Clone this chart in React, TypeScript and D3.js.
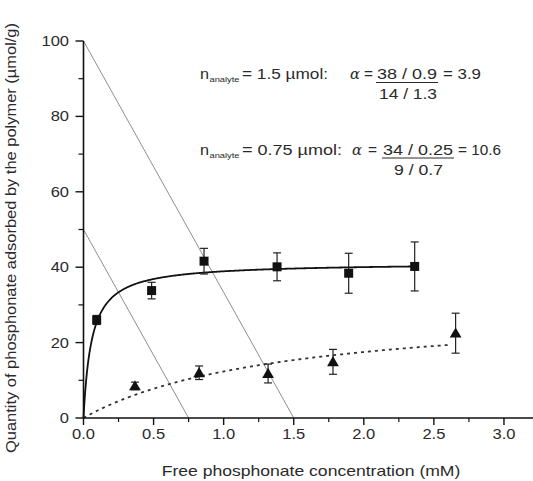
import React from "react";
import * as d3 from "d3";

const W = 533;
const H = 481;

// Polymer adsorption data, 1.5 µmol analyte (squares)
const concHigh = [0.094, 0.486, 0.86, 1.381, 1.892, 2.363];
const qHigh = [26, 33.8, 41.6, 40.1, 38.4, 40.2];
const errHigh = [1.2, 2.2, 3.4, 3.7, 5.3, 6.5];

// Polymer adsorption data, 0.75 µmol analyte (triangles)
const concLow = [0.367, 0.825, 1.317, 1.78, 2.655];
const qLow = [8.5, 12.0, 11.8, 14.9, 22.5];
const errLow = [1.0, 1.8, 2.5, 3.3, 5.3];

// Langmuir fit parameters [qmax, K, xEnd]
const fitHigh = [41.2, 17, 2.37];
const fitLow = [30, 0.7, 2.6];

// Mass-balance operating lines: [intercept on y, intercept on x]
const operatingLines = [
  [100, 1.5],
  [50, 0.75],
];

const xTicks = [0, 0.5, 1, 1.5, 2, 2.5, 3];
const xMinor = [0.25, 0.75, 1.25, 1.75, 2.25, 2.75];
const yTicks = [0, 20, 40, 60, 80, 100];
const yMinor = [10, 30, 50, 70, 90];

const FONT = "'Liberation Sans', Arial, sans-serif";
const TXT = "#2a2a2a";
const SX = 1.18;

// Text stretched horizontally, anchored at (x, y)
function SText(props: {
  x: number;
  y: number;
  anchor?: "start" | "middle" | "end";
  size?: number;
  sx?: number;
  children: React.ReactNode;
}) {
  const { x, y, anchor = "start", size = 14, sx = SX, children } = props;
  return (
    <text
      transform={`translate(${x},${y}) scale(${sx},1)`}
      textAnchor={anchor}
      fontSize={size}
      fill={TXT}
    >
      {children}
    </text>
  );
}

// Text piece fitted to a given width
function FText(props: {
  x: number;
  y: number;
  len: number;
  size?: number;
  italic?: boolean;
  family?: string;
  children: React.ReactNode;
}) {
  const { x, y, len, size = 14, italic, family, children } = props;
  return (
    <text
      x={x}
      y={y}
      textLength={len}
      lengthAdjust="spacingAndGlyphs"
      fontSize={size}
      fontStyle={italic ? "italic" : "normal"}
      fontFamily={family}
      fill={TXT}
      style={{ whiteSpace: "pre" }}
    >
      {children}
    </text>
  );
}

export default function App() {
  const x = d3.scaleLinear().domain([0, 3.2]).range([83.5, 532]);
  const y = d3.scaleLinear().domain([0, 100]).range([418, 41]);

  const langmuir = (p: number[]) => {
    const [qmax, K, xEnd] = p;
    const xs = d3.range(0, 400).map((i) => (xEnd * i) / 399);
    const line = d3
      .line<number>()
      .x((c) => x(c))
      .y((c) => y((qmax * K * c) / (1 + K * c)));
    return line(xs) || "";
  };

  const tri = d3.symbol().type(d3.symbolTriangle).size(60)() || "";

  const errBar = (cx: number, v: number, e: number, key: string) => (
    <g key={key} stroke="#222" strokeWidth={1.2}>
      <line x1={x(cx)} x2={x(cx)} y1={y(v + e)} y2={y(v - e)} />
      <line x1={x(cx) - 4} x2={x(cx) + 4} y1={y(v + e)} y2={y(v + e)} />
      <line x1={x(cx) - 4} x2={x(cx) + 4} y1={y(v - e)} y2={y(v - e)} />
    </g>
  );

  return (
    <svg
      width={W}
      height={H}
      style={{ position: "absolute", left: 0, top: 0, background: "#fff" }}
      fontFamily={FONT}
    >
      {/* operating lines */}
      {operatingLines.map(([y0, x0], i) => (
        <line
          key={i}
          x1={x(0)}
          y1={y(y0)}
          x2={x(x0)}
          y2={y(0)}
          stroke="#8e8e8e"
          strokeWidth={1}
        />
      ))}

      {/* fitted isotherms */}
      <path d={langmuir(fitHigh)} fill="none" stroke="#111" strokeWidth={1.8} />
      <path
        d={langmuir(fitLow)}
        fill="none"
        stroke="#333"
        strokeWidth={1.8}
        strokeDasharray="3,4"
      />

      {/* squares */}
      {concHigh.map((c, i) => (
        <g key={"h" + i}>
          {errBar(c, qHigh[i], errHigh[i], "eh" + i)}
          <rect x={x(c) - 4.5} y={y(qHigh[i]) - 4.5} width={9} height={9} fill="#111" />
        </g>
      ))}

      {/* triangles */}
      {concLow.map((c, i) => (
        <g key={"l" + i}>
          {errBar(c, qLow[i], errLow[i], "el" + i)}
          <path d={tri} transform={`translate(${x(c)},${y(qLow[i]) + 1})`} fill="#111" />
        </g>
      ))}

      {/* x axis */}
      <line x1={x(0)} x2={W} y1={y(0)} y2={y(0)} stroke="#111" strokeWidth={1.6} />
      {xTicks.map((t) => (
        <g key={"xt" + t}>
          <line x1={x(t)} x2={x(t)} y1={y(0)} y2={y(0) + 7} stroke="#111" strokeWidth={1.4} />
          <SText x={x(t)} y={438.5} anchor="middle">
            {d3.format(".1f")(t)}
          </SText>
        </g>
      ))}
      {xMinor.map((t) => (
        <line key={"xm" + t} x1={x(t)} x2={x(t)} y1={y(0)} y2={y(0) + 4} stroke="#111" strokeWidth={1.2} />
      ))}

      {/* y axis */}
      <line x1={x(0)} x2={x(0)} y1={y(100)} y2={y(0)} stroke="#111" strokeWidth={1.6} />
      {yTicks.map((t) => (
        <g key={"yt" + t}>
          <line x1={x(0) - 8} x2={x(0)} y1={y(t)} y2={y(t)} stroke="#111" strokeWidth={1.4} />
          <SText x={69} y={y(t) + 5} anchor="end">
            {t}
          </SText>
        </g>
      ))}
      {yMinor.map((t) => (
        <line key={"ym" + t} x1={x(0) - 5} x2={x(0)} y1={y(t)} y2={y(t)} stroke="#111" strokeWidth={1.2} />
      ))}

      {/* axis titles */}
      <SText x={311} y={476} anchor="middle" sx={1.255}>
        Free phosphonate concentration (mM)
      </SText>
      <text
        transform={`translate(16,238) rotate(-90)`}
        textAnchor="middle"
        fontSize={14}
        textLength={430}
        lengthAdjust="spacingAndGlyphs"
        fill={TXT}
      >
        Quantity of phosphonate adsorbed by the polymer (µmol/g)
      </text>

      {/* selectivity annotations, 1.5 µmol */}
      <FText x={200} y={79} len={9}>n</FText>
      <FText x={209.5} y={82} len={30} size={7.5}>analyte</FText>
      <FText x={242} y={79} len={86}>= 1.5 µmol:</FText>
      <FText x={350} y={79} len={10} italic family="'DejaVu Serif', serif">α</FText>
      <FText x={364} y={79} len={9}>=</FText>
      <FText x={377} y={79} len={60}>38 / 0.9</FText>
      <FText x={443} y={79} len={38}>= 3.9</FText>
      <line x1={376} x2={438} y1={82.5} y2={82.5} stroke={TXT} strokeWidth={1} />
      <FText x={379} y={99} len={58}>14 / 1.3</FText>

      {/* selectivity annotations, 0.75 µmol */}
      <FText x={200} y={155} len={9}>n</FText>
      <FText x={209.5} y={158} len={30} size={7.5}>analyte</FText>
      <FText x={242} y={155} len={100}>= 0.75 µmol:</FText>
      <FText x={352} y={155} len={10} italic family="'DejaVu Serif', serif">α</FText>
      <FText x={368} y={155} len={9}>=</FText>
      <FText x={383} y={155} len={70}>34 / 0.25</FText>
      <FText x={458} y={155} len={43}>= 10.6</FText>
      <line x1={382} x2={454} y1={158} y2={158} stroke={TXT} strokeWidth={1} />
      <FText x={394} y={175} len={49}>9 / 0.7</FText>
    </svg>
  );
}
